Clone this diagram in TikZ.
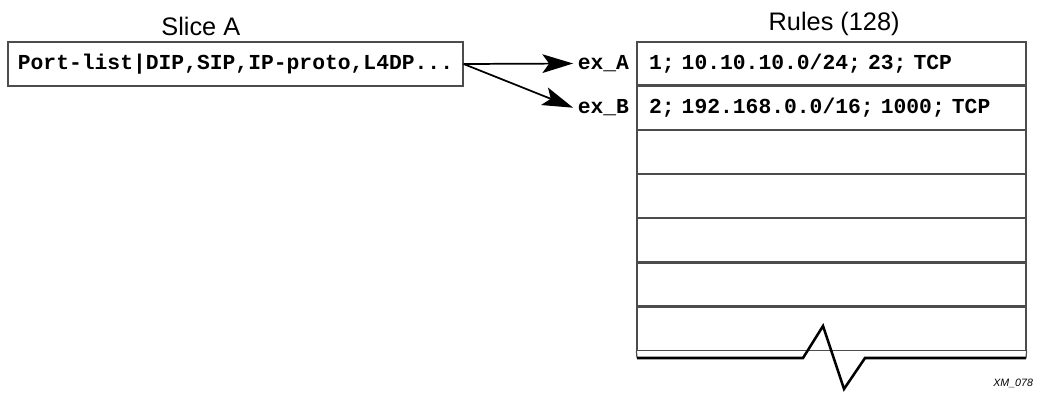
\documentclass[tikz,border=0pt]{standalone}
\usepackage{fontspec}
\setmainfont{Liberation Sans}
\setmonofont{Liberation Mono}
\usetikzlibrary{arrows.meta,positioning}

\tikzset{
  fieldbox/.style={draw=black!70,line width=0.9pt,font=\fontsize{16}{19}\selectfont\ttfamily\bfseries,minimum width=341.25pt,minimum height=33pt,inner ysep=0pt},
  rulerow/.style={draw=black!70,line width=0.9pt,font=\fontsize{16}{19}\selectfont\ttfamily\bfseries,text width=273.75pt,inner xsep=9pt,inner ysep=0pt,minimum height=32.25pt,align=left},
  tag/.style={font=\fontsize{16}{19}\selectfont\ttfamily\bfseries},
  heading/.style={font=\fontsize{19}{22}\selectfont}
}

\begin{document}
\begin{tikzpicture}[x=0.75pt,y=-0.75pt,>={Stealth[length=23pt,width=14pt,inset=5pt]}]
\useasboundingbox (0,0) rectangle (1044,393);
\node[fieldbox] (slice) at (235.5,64) {Port-list|DIP,SIP,IP-proto,L4DP...};
\node[heading,above=1pt of slice,xshift=-26pt] (slicehead) {Slice A};
\node[rulerow] (r1) at (831.5,63.5) {1; 10.10.10.0/24; 23; TCP};
\node[rulerow,below=0pt of r1] (r2) {2; 192.168.0.0/16; 1000; TCP};
\foreach \i [evaluate=\i as \j using int(\i-1)] in {3,...,7}
  \node[rulerow,below=0pt of r\j] (r\i) {};
\node[heading,above=1pt of r1,xshift=2pt] (ruleshead) {Rules (128)};
\node[tag,left=2pt of r1] (exA) {ex\_A};
\node[tag,left=2pt of r2] (exB) {ex\_B};
\draw[->,line width=1.3pt] (slice.east) -- (exA.west);
\draw[->,line width=1.3pt] (slice.east) -- (exB.west);
% open bottom of the rule table
\draw[draw=black!70,line width=0.9pt] (r7.south west) -- (637,358) (r7.south east) -- (1026,358);
\draw[line width=1.9pt,line join=miter] (637,358) -- (803,358) -- (823,326) -- (844,389) -- (865,358) -- (1026,358);
\node[anchor=north west,inner sep=0pt,font=\fontsize{8}{9}\selectfont\itshape] (figid) at (993,379) {XM\_078};
\end{tikzpicture}
\end{document}
